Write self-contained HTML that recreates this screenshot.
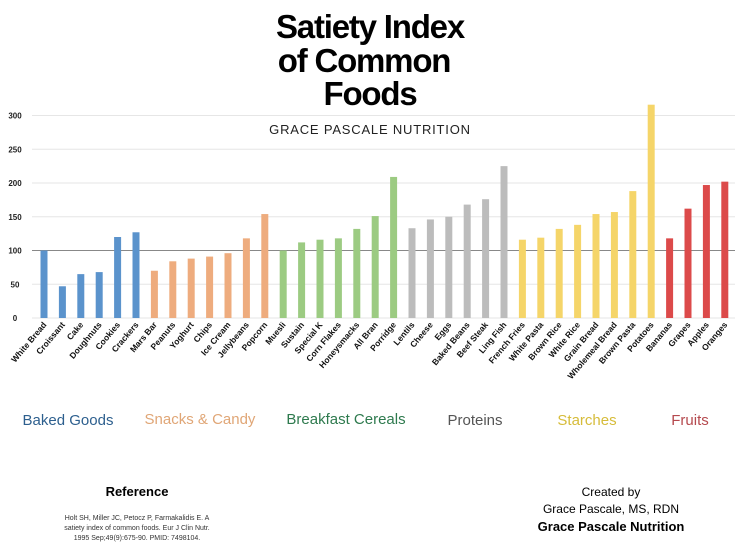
<!DOCTYPE html>
<html><head><meta charset="utf-8"><style>
body{margin:0;background:#fff;width:740px;height:555px;overflow:hidden;font-family:"Liberation Sans",sans-serif}
svg{display:block}
</style></head><body>
<svg id="c" width="740" height="555">
<text x="370" y="38" text-anchor="middle" font-size="33" font-weight="900" letter-spacing="-1.2" fill="#000">Satiety Index</text>
<text x="364" y="72" text-anchor="middle" font-size="33" font-weight="900" letter-spacing="-1.2" fill="#000">of Common</text>
<text x="370" y="105" text-anchor="middle" font-size="33" font-weight="900" letter-spacing="-1.2" fill="#000">Foods</text>
<text x="370" y="134" text-anchor="middle" font-size="13" letter-spacing="0.8" fill="#222">GRACE PASCALE NUTRITION</text>
<g id="grid"></g><g id="bars"></g><g id="labels"></g>
<text x="68" y="425" text-anchor="middle" font-size="15" fill="#2d5f8e">Baked Goods</text>
<text x="200" y="424" text-anchor="middle" font-size="15" fill="#e0a676">Snacks &amp; Candy</text>
<text x="346" y="424" text-anchor="middle" font-size="15" fill="#2e7a4e">Breakfast Cereals</text>
<text x="475" y="425" text-anchor="middle" font-size="15" fill="#555">Proteins</text>
<text x="587" y="425" text-anchor="middle" font-size="15" fill="#d6bc3a">Starches</text>
<text x="690" y="425" text-anchor="middle" font-size="15" fill="#b5494e">Fruits</text>
<text x="137" y="496" text-anchor="middle" font-size="13" font-weight="bold" fill="#000">Reference</text>
<g font-size="7" fill="#333" text-anchor="middle">
<text x="137" y="520">Holt SH, Miller JC, Petocz P, Farmakalidis E. A</text>
<text x="137" y="530">satiety index of common foods. Eur J Clin Nutr.</text>
<text x="137" y="540">1995 Sep;49(9):675-90. PMID: 7498104.</text>
</g>
<text x="611" y="496" text-anchor="middle" font-size="12" fill="#000">Created by</text>
<text x="611" y="513" text-anchor="middle" font-size="12" fill="#000">Grace Pascale, MS, RDN</text>
<text x="611" y="531" text-anchor="middle" font-size="13" font-weight="bold" fill="#000">Grace Pascale Nutrition</text>
</svg>
<script>
const categories=["White Bread","Croissant","Cake","Doughnuts","Cookies","Crackers","Mars Bar","Peanuts","Yoghurt","Chips","Ice Cream","Jellybeans","Popcorn","Muesli","Sustain","Special K","Corn Flakes","Honeysmacks","All Bran","Porridge","Lentils","Cheese","Eggs","Baked Beans","Beef Steak","Ling Fish","French Fries","White Pasta","Brown Rice","White Rice","Grain Bread","Wholemeal Bread","Brown Pasta","Potatoes","Bananas","Grapes","Apples","Oranges"];
const values=[100,47,65,68,120,127,70,84,88,91,96,118,154,100,112,116,118,132,151,209,133,146,150,168,176,225,116,119,132,138,154,157,188,316,118,162,197,202];
const groups=[0,0,0,0,0,0,1,1,1,1,1,1,1,2,2,2,2,2,2,2,3,3,3,3,3,3,4,4,4,4,4,4,4,4,5,5,5,5];
const groupColors=["#5b93cc","#eeac7e","#9ccb82","#bcbcbc","#f5d569","#dc4a4a"];
const yTicks=[0,50,100,150,200,250,300];
const NS="http://www.w3.org/2000/svg";
const y=v=>318-v*0.675;
const x=i=>44+i*18.4;
function mk(t,a,p){const e=document.createElementNS(NS,t);for(const k in a)e.setAttribute(k,a[k]);document.getElementById(p).appendChild(e);return e;}
yTicks.forEach(t=>{
  const l=mk('line',{x1:32,x2:735,y1:y(t),y2:y(t),stroke:t===100?'#888':'#e6e6e6','stroke-width':1},'grid');
  
  
  const tx=mk('text',{x:15,y:y(t)+3,'font-size':8,'font-weight':'bold',fill:'#222','text-anchor':'middle'},'grid');
  tx.textContent=t;
  
  
});
values.forEach((v,i)=>{
  const r=mk('rect',{x:x(i)-3.5,y:y(v),width:7,height:318-y(v),fill:groupColors[groups[i]]},'bars');
  
  
  const t=mk('text',{x:x(i)+3,y:325,'font-size':8.5,'font-weight':'bold',fill:'#111','text-anchor':'end',transform:`rotate(-50 ${x(i)+3} 325)`},'labels');
  t.textContent=categories[i];
  
  
});
</script>
</body></html>
